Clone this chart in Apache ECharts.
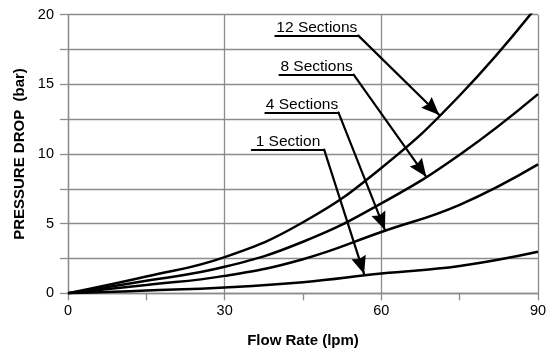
<!DOCTYPE html>
<html>
<head>
<meta charset="utf-8">
<script src="https://cdn.jsdelivr.net/npm/echarts@6/dist/echarts.min.js"></script>
<style>
  html, body { margin: 0; padding: 0; background: #fff; }
  #chart { width: 553px; height: 352px; }
</style>
</head>
<body>
<div id="chart"></div>
<script>
// Flow rate (lpm) sample points
const flowRate = [0, 15, 30, 45, 60, 75, 90];

// Pressure drop (bar) per number of sections
const drop12 = [0, 1.2, 2.6, 5.1, 9.0, 14.2, 20.7];
const drop8  = [0, 0.9, 1.9, 3.7, 6.45, 9.95, 14.3];
const drop4  = [0, 0.6, 1.25, 2.45, 4.4, 6.35, 9.25];
const drop1  = [0, 0.2, 0.42, 0.8, 1.42, 1.96, 2.98];

const seriesNames = ['12 Sections', '8 Sections', '4 Sections', '1 Section'];
const seriesValues = [drop12, drop8, drop4, drop1];

const xTicks = [0, 30, 60, 90];
const yTicks = [0, 5, 10, 15, 20];

// Callout placement: label underline (x from, x to, y) and arrow tip on the curve
const callouts = [
  { from: 39.7, to: 55.6, y: 18.5, tip: [71.1, 12.8] },
  { from: 40.5, to: 54.7, y: 15.7, tip: [68.6, 8.36] },
  { from: 37.8, to: 51.8, y: 12.97, tip: [60.7, 4.54] },
  { from: 35.2, to: 49.05, y: 10.32, tip: [56.7, 1.38] }
];

const FONT = "Arial, 'Liberation Sans', Helvetica, sans-serif";
const GRID_COLOR = '#8c8c8c';
// Filled arrowhead with a shallow notch; the leading M6,0 pads the box so the
// point of the head sits at the symbol centre, i.e. exactly on the line end.
const ARROW = 'path://M6,0 M6,16 L12,32 L6,30 L0,32 Z';

const series = seriesNames.map((name, i) => {
  const c = callouts[i];
  return {
    name: name,
    type: 'line',
    data: flowRate.map((x, k) => [x, seriesValues[i][k]]),
    smooth: 0.45,
    showSymbol: false,
    symbol: 'none',
    clip: true,
    lineStyle: { color: '#000', width: 2.5 },
    animation: false,
    markLine: {
      silent: true,
      animation: false,
      symbol: ['none', 'none'],
      lineStyle: { color: '#000', width: 2.2, type: 'solid', cap: 'round' },
      itemStyle: { color: '#000' },
      label: { show: false },
      emphasis: { disabled: true },
      data: [
        [
          { coord: [c.from, c.y], symbol: 'none' },
          {
            coord: [c.to, c.y], symbol: 'none',
            label: {
              show: true,
              position: 'insideMiddleTop',
              formatter: name,
              color: '#000',
              fontFamily: FONT,
              fontSize: 15.5,
              distance: 0
            }
          }
        ],
        [
          { coord: [c.to, c.y], symbol: 'none' },
          { coord: c.tip, symbol: ARROW, symbolSize: [15, 36] }
        ]
      ]
    }
  };
});

const chart = echarts.init(document.getElementById('chart'), null, { renderer: 'canvas' });
chart.setOption({
  animation: false,
  backgroundColor: '#fff',
  grid: {
    left: 68, right: 15, top: 14.7, bottom: 58.7,
    containLabel: false,
    outerBoundsMode: 'none'
  },
  xAxis: {
    type: 'value',
    min: xTicks[0],
    max: xTicks[xTicks.length - 1],
    interval: 30,
    name: 'Flow Rate (lpm)',
    nameLocation: 'middle',
    nameGap: 40,
    nameTextStyle: { fontFamily: FONT, fontSize: 15, fontWeight: 'bold', color: '#000' },
    axisLine: { show: true, lineStyle: { color: GRID_COLOR, width: 1.3 } },
    axisTick: { show: true, length: 7, lineStyle: { color: GRID_COLOR, width: 1.3 } },
    minorTick: { show: true, splitNumber: 2, length: 7, lineStyle: { color: GRID_COLOR, width: 1.3 } },
    axisLabel: { fontFamily: FONT, fontSize: 14.5, color: '#000', margin: 10 },
    splitLine: { show: true, lineStyle: { color: GRID_COLOR, width: 1.3 } }
  },
  yAxis: {
    type: 'value',
    min: yTicks[0],
    max: yTicks[yTicks.length - 1],
    interval: 5,
    name: 'PRESSURE DROP  (bar)',
    nameLocation: 'middle',
    nameGap: 32,
    nameTextStyle: { fontFamily: FONT, fontSize: 15, fontWeight: 'bold', color: '#000' },
    axisLine: { show: true, lineStyle: { color: GRID_COLOR, width: 1.3 } },
    axisTick: { show: true, length: 8, lineStyle: { color: GRID_COLOR, width: 1.3 } },
    minorTick: { show: true, splitNumber: 2, length: 8, lineStyle: { color: GRID_COLOR, width: 1.3 } },
    minorSplitLine: { show: true, lineStyle: { color: GRID_COLOR, width: 1.3 } },
    axisLabel: { fontFamily: FONT, fontSize: 14.5, color: '#000', margin: 14 },
    splitLine: { show: true, lineStyle: { color: GRID_COLOR, width: 1.3 } }
  },
  series: series
});
</script>
</body>
</html>
